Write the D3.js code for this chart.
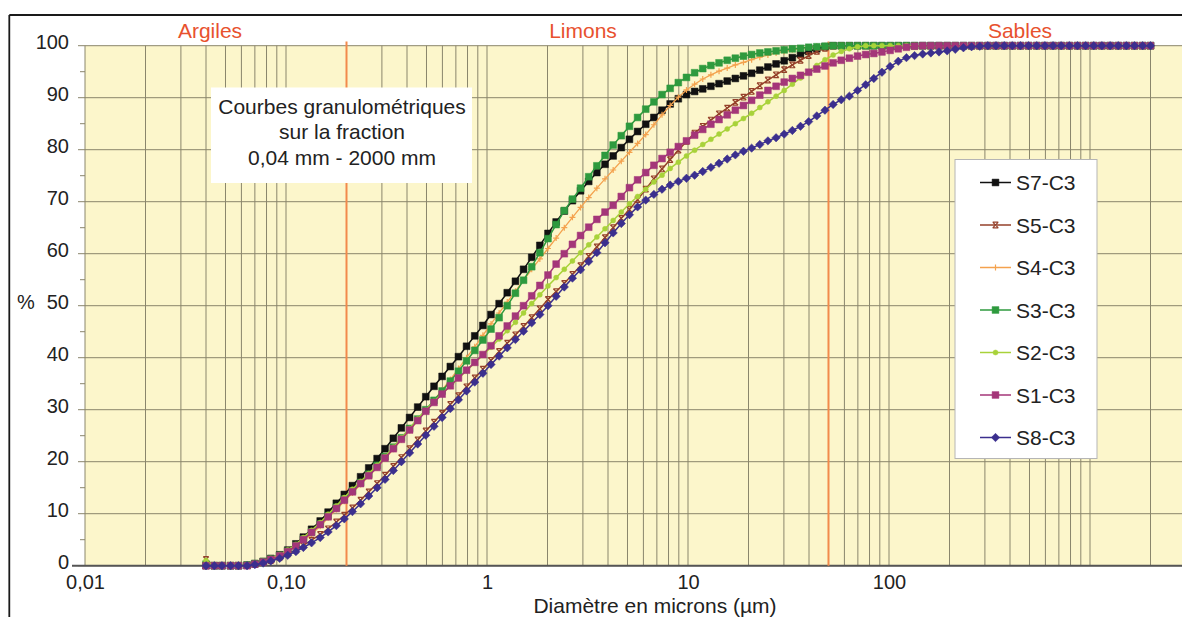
<!DOCTYPE html>
<html><head><meta charset="utf-8">
<script src="https://cdn.jsdelivr.net/npm/d3@7"></script>
<style>
html,body{margin:0;padding:0;background:#fff;}
svg{display:block;font-family:"Liberation Sans",Arial,sans-serif;}
</style></head><body>
<svg id="chart" width="1182" height="617"></svg>
<script>
// ---- DATA ----
const sizes = [0.040,0.044,0.048,0.053,0.058,0.064,0.070,0.077,0.084,0.093,
0.102,0.112,0.122,0.134,0.148,0.162,0.178,0.195,0.214,0.235,
0.258,0.284,0.311,0.342,0.375,0.412,0.452,0.496,0.545,0.598,
0.657,0.721,0.791,0.869,0.954,1.047,1.149,1.261,1.385,1.520,
1.669,1.832,2.011,2.208,2.424,2.661,2.921,3.207,3.520,3.865,
4.243,4.657,5.113,5.613,6.162,6.765,7.427,8.153,8.951,9.826,
10.79,11.84,13.00,14.27,15.67,17.20,18.88,20.73,22.76,24.98,
27.43,30.11,33.05,36.29,39.84,43.73,48.01,52.71,57.86,63.52,
69.74,76.56,84.05,92.27,101.3,111.2,122.1,134.0,147.1,161.5,
177.3,194.7,213.7,234.6,257.5,282.7,310.4,340.7,374.1,410.6,
450.8,494.9,543.3,596.5,654.8,718.9,789.2,866.4,951.1,1044,
1146,1259,1382,1517,1665,1828,2000];

const s7 = [0,0,0,0,0,0.1,0.4,0.8,1.4,2.1,
3.0,4.2,5.5,7.0,8.6,10.3,12.0,13.7,15.4,17.1,
18.8,20.6,22.5,24.5,26.5,28.5,30.5,32.5,34.5,36.4,
38.3,40.2,42.2,44.2,46.2,48.3,50.4,52.5,54.7,57.0,
59.3,61.6,63.9,66.1,68.2,70.2,72.1,73.9,75.6,77.2,
78.8,80.4,82.0,83.5,84.9,86.2,87.6,88.8,89.8,90.6,
91.2,91.7,92.2,92.7,93.2,93.7,94.2,94.7,95.3,95.9,
96.5,97.1,97.7,98.3,98.9,99.4,99.8,100,100,100,
100,100,100,100,100,100,100,100,100,100,
100,100,100,100,100,100,100,100,100,100,
100,100,100,100,100,100,100,100,100,100,
100,100,100,100,100,100,100];

const s5 = [1.2,0,0,0,0,0,0.2,0.6,1.0,1.6,
2.3,3.0,3.9,4.9,6.0,7.1,8.4,9.7,11.1,12.6,
14.2,15.8,17.4,19.1,20.8,22.5,24.2,25.9,27.6,29.3,
31.0,32.7,34.4,36.1,37.8,39.5,41.2,42.8,44.4,46.0,
47.7,49.4,51.2,52.7,54.3,56.0,57.7,59.5,61.3,63.1,
65.0,66.8,68.5,70.4,72.4,74.4,76.3,78.1,79.9,81.6,
83.2,84.5,85.7,86.9,88.0,89.1,90.1,91.2,92.3,93.4,
94.4,95.4,96.3,97.2,98.1,98.9,99.5,99.9,100,100,
100,100,100,100,100,100,100,100,100,100,
100,100,100,100,100,100,100,100,100,100,
100,100,100,100,100,100,100,100,100,100,
100,100,100,100,100,100,100];

const s4 = [0,0,0,0,0,0,0.3,0.7,1.2,1.8,
2.6,3.6,4.8,6.1,7.6,9.2,10.8,12.4,14.0,15.6,
17.2,18.9,20.6,22.4,24.2,26.0,27.9,29.8,31.8,33.8,
35.8,37.9,40.0,42.1,44.3,46.5,48.6,50.7,52.8,54.9,
57.0,59.0,61.0,63.0,65.0,67.0,68.9,70.8,72.6,74.4,
76.1,77.8,79.5,81.2,82.9,84.8,86.7,88.5,90.1,91.5,
92.6,93.6,94.4,95.1,95.7,96.3,96.8,97.3,97.8,98.2,
98.6,98.9,99.2,99.5,99.7,99.9,100,100,100,100,
100,100,100,100,100,100,100,100,100,100,
100,100,100,100,100,100,100,100,100,100,
100,100,100,100,100,100,100,100,100,100,
100,100,100,100,100,100,100];

const s3 = [0.3,0,0,0,0,0.1,0.4,0.8,1.3,2.0,
2.8,3.9,5.1,6.5,8.0,9.6,11.2,12.8,14.4,16.0,
17.6,19.3,21.0,22.8,24.6,26.4,28.2,30.0,31.8,33.6,
35.5,37.4,39.4,41.4,43.4,45.5,47.7,50.0,52.4,54.9,
57.5,60.2,62.9,65.6,68.3,70.5,72.6,74.8,76.9,78.9,
80.9,82.7,84.5,86.2,87.8,89.2,90.6,91.8,92.9,93.9,
94.8,95.6,96.2,96.7,97.2,97.6,98.0,98.3,98.6,98.8,
99.0,99.2,99.4,99.5,99.7,99.8,99.9,100,100,100,
100,100,100,100,100,100,100,100,100,100,
100,100,100,100,100,100,100,100,100,100,
100,100,100,100,100,100,100,100,100,100,
100,100,100,100,100,100,100];

const s2 = [1.0,0,0,0,0,0,0.3,0.8,1.4,2.1,
3.0,4.1,5.4,6.8,8.3,9.9,11.5,13.1,14.7,16.2,
17.7,19.3,21.0,22.8,24.6,26.4,28.2,29.9,31.6,33.1,
34.5,36.0,37.5,39.0,40.5,42.0,43.6,45.2,46.8,48.6,
50.4,52.1,53.8,55.4,57.0,58.6,60.2,61.7,63.2,64.8,
66.4,68.0,69.6,71.0,72.4,73.8,75.1,76.4,77.6,78.8,
79.9,81.0,82.0,83.0,84.0,85.0,86.0,87.0,88.1,89.2,
90.3,91.4,92.6,93.8,95.0,96.2,97.3,98.2,98.9,99.4,
99.8,100,100,100,100,100,100,100,100,100,
100,100,100,100,100,100,100,100,100,100,
100,100,100,100,100,100,100,100,100,100,
100,100,100,100,100,100,100];

const s1 = [0,0,0,0,0,0,0.3,0.7,1.2,1.9,
2.7,3.8,5.0,6.4,7.9,9.4,11.0,12.6,14.2,15.8,
17.3,18.9,20.7,22.5,24.3,26.1,27.9,29.7,31.4,33.0,
34.6,36.1,37.6,39.1,40.6,42.3,44.2,46.1,48.0,50.0,
51.9,53.9,55.9,58.0,60.0,61.8,63.5,65.1,66.6,68.0,
69.3,71.0,72.7,74.2,75.6,77.0,78.3,79.5,80.6,81.7,
82.8,83.9,84.9,85.8,86.7,87.6,88.5,89.5,90.5,91.4,
92.2,93.0,93.7,94.3,94.9,95.5,96.1,96.7,97.2,97.6,
98.0,98.3,98.5,98.8,99.1,99.4,99.7,99.9,100,100,
100,100,100,100,100,100,100,100,100,100,
100,100,100,100,100,100,100,100,100,100,
100,100,100,100,100,100,100];

const s8 = [0,0,0,0,0,0,0.2,0.5,0.9,1.4,
2.0,2.7,3.5,4.4,5.4,6.5,7.7,9.0,10.4,11.9,
13.4,15.0,16.6,18.3,20.0,21.7,23.4,25.1,26.8,28.5,
30.2,31.9,33.6,35.3,37.0,38.7,40.3,41.9,43.5,45.1,
46.7,48.3,50.0,51.8,53.6,55.3,56.9,58.5,60.2,62.1,
64.0,65.8,67.5,69.0,70.3,71.4,72.4,73.2,73.9,74.5,
75.1,75.8,76.6,77.4,78.2,79.0,79.7,80.3,81.0,81.7,
82.3,83.0,83.7,84.5,85.4,86.5,87.6,88.7,89.6,90.3,
91.4,92.5,93.7,94.9,96.0,97.0,97.7,98.1,98.4,98.6,
98.8,99.0,99.3,99.6,99.8,99.9,100,100,100,100,
100,100,100,100,100,100,100,100,100,100,
100,100,100,100,100,100,100];

const seriesNames  = ["S7-C3","S5-C3","S4-C3","S3-C3","S2-C3","S1-C3","S8-C3"];
const seriesValues = [s7, s5, s4, s3, s2, s1, s8];
const yTicks = [0,10,20,30,40,50,60,70,80,90,100];
const yMinorTicks = [5,15,25,35,45,55,65,75,85,95];
const xTickValues = [0.01,0.1,1,10,100];
const xTickLabels = ["0,01","0,10","1","10","100"];
const zoneNames = ["Argiles","Limons","Sables"];
const zoneBoundaries = [0.2, 50];
const noteLines = ["Courbes granulométriques","sur la fraction","0,04 mm - 2000 mm"];
const xTitle = "Diamètre en microns (µm)";
const yTitle = "%";

// ---- STYLE ----
const colors  = ["#111111","#95402a","#f4a24e","#2e9a3e","#a8d23a","#a43679","#3b2f8e"];
const markers = ["square","cross","plus","square","circle","square","diamond"];
const markerPaths = {
  square:  "M-3.4,-3.4h6.8v6.8h-6.8z",
  diamond: "M0,-4.2L4.2,0L0,4.2L-4.2,0Z",
  circle:  "M2.5,0A2.5,2.5 0 1,1 -2.5,0A2.5,2.5 0 1,1 2.5,0Z",
  cross:   "M-2.8,-2.8L2.8,2.8M-2.8,2.8L2.8,-2.8M-2.8,-2.8H2.8M-2.8,2.8H2.8",
  plus:    "M-3,0H3M0,-3V3"
};
const filled = {square:true, diamond:true, circle:true, cross:false, plus:false};

(function draw(){
const svg = d3.select("#chart");
const pLeft = 85, pTop = 45.7, pBottom = 565.7;
const x = d3.scaleLog().domain([0.01, 3000]).range([pLeft, pLeft + 201*Math.log10(300000)]);
const y = d3.scaleLinear().domain([0,100]).range([pBottom, pTop]);
const pRight = x.range()[1];

// frame
svg.append("line").attr("x1",9.3).attr("y1",15).attr("x2",1182).attr("y2",15)
  .attr("stroke","#1a1a1a").attr("stroke-width",1.8);
svg.append("line").attr("x1",9.3).attr("y1",15).attr("x2",9.3).attr("y2",617)
  .attr("stroke","#1a1a1a").attr("stroke-width",1.8);

// plot background
svg.append("rect").attr("x",pLeft).attr("y",pTop).attr("width",pRight-pLeft).attr("height",pBottom-pTop)
  .attr("fill","#fcf6cb");

const gridColor = "#8a866c";
svg.append("g").selectAll("line").data(x.ticks()).join("line")
  .attr("x1",d=>x(d)).attr("x2",d=>x(d)).attr("y1",pTop).attr("y2",pBottom)
  .attr("stroke",gridColor).attr("stroke-width",1);
svg.append("g").selectAll("line").data(yTicks).join("line")
  .attr("x1",78).attr("x2",pRight).attr("y1",d=>y(d)).attr("y2",d=>y(d))
  .attr("stroke",gridColor).attr("stroke-width",1);
svg.append("g").selectAll("line").data(yMinorTicks).join("line")
  .attr("x1",80).attr("x2",pLeft).attr("y1",d=>y(d)).attr("y2",d=>y(d))
  .attr("stroke",gridColor).attr("stroke-width",1);
svg.append("line").attr("x1",72).attr("x2",pRight).attr("y1",pBottom).attr("y2",pBottom)
  .attr("stroke","#555").attr("stroke-width",2);

// zone boundaries
svg.append("g").selectAll("line").data(zoneBoundaries).join("line")
  .attr("x1",d=>x(d)).attr("x2",d=>x(d)).attr("y1",41.5).attr("y2",pBottom)
  .attr("stroke","#f28a4c").attr("stroke-width",2);

// zone labels
const zoneX = [210, 583, 1020];
svg.append("g").selectAll("text").data(zoneNames).join("text")
  .attr("x",(d,i)=>zoneX[i]).attr("y",37.5).attr("text-anchor","middle")
  .attr("font-size",21).attr("fill","#e8512e").text(d=>d);

// y tick labels
svg.append("g").selectAll("text").data(yTicks).join("text")
  .attr("x",69).attr("y",d=>y(d)+2.8).attr("text-anchor","end")
  .attr("font-size",20).attr("fill","#222").text(d=>d);
svg.append("text").attr("x",17).attr("y",y(50)+2.8).attr("font-size",20).attr("fill","#222").text(yTitle);

// x axis labels
const xAxis = d3.axisBottom(x).tickValues(xTickValues)
  .tickFormat((d,i)=>xTickLabels[i]).tickSize(0).tickPadding(9);
const gx = svg.append("g").attr("transform",`translate(0,${pBottom})`).call(xAxis);
gx.select(".domain").remove();
gx.selectAll("text").attr("font-size",20).attr("fill","#222")
  .attr("font-family","Liberation Sans, Arial, sans-serif");
svg.append("text").attr("x",655).attr("y",613).attr("text-anchor","middle")
  .attr("font-size",21).attr("fill","#222").text(xTitle);

// note box
svg.append("rect").attr("x",211).attr("y",87.5).attr("width",261).attr("height",95.5).attr("fill","#ffffff");
svg.append("g").selectAll("text").data(noteLines).join("text")
  .attr("x",342).attr("y",(d,i)=>113.5 + i*25.5).attr("text-anchor","middle")
  .attr("font-size",21).attr("fill","#222").text(d=>d);

// series
const line = d3.line().x((d,i)=>x(sizes[i])).y(d=>y(d));
seriesValues.forEach((vals, k) => {
  const g = svg.append("g");
  g.append("path").attr("d", line(vals)).attr("fill","none")
    .attr("stroke",colors[k]).attr("stroke-width", k===2 ? 1.3 : 1.5);
  const m = markers[k];
  g.selectAll("path.m").data(vals).join("path").attr("class","m")
    .attr("transform",(d,i)=>`translate(${x(sizes[i])},${y(d)})`)
    .attr("d", markerPaths[m])
    .attr("fill", filled[m] ? colors[k] : "none")
    .attr("stroke", colors[k]).attr("stroke-width", filled[m] ? 0.5 : 1.2);
});

// legend
const lg = svg.append("g");
lg.append("rect").attr("x",955).attr("y",159.5).attr("width",142).attr("height",299)
  .attr("fill","#ffffff").attr("stroke","#b5b5b5").attr("stroke-width",1);
seriesNames.forEach((name,k)=>{
  const ly = 182.5 + k*42.5;
  lg.append("line").attr("x1",980).attr("x2",1011).attr("y1",ly).attr("y2",ly)
    .attr("stroke",colors[k]).attr("stroke-width",1.5);
  const m = markers[k];
  lg.append("path").attr("transform",`translate(995.5,${ly})`).attr("d",markerPaths[m])
    .attr("fill", filled[m] ? colors[k] : "none").attr("stroke",colors[k])
    .attr("stroke-width", filled[m] ? 0.5 : 1.2);
  lg.append("text").attr("x",1016).attr("y",ly+7.5).attr("font-size",21).attr("fill","#222").text(name);
});
})();
</script>
</body></html>
